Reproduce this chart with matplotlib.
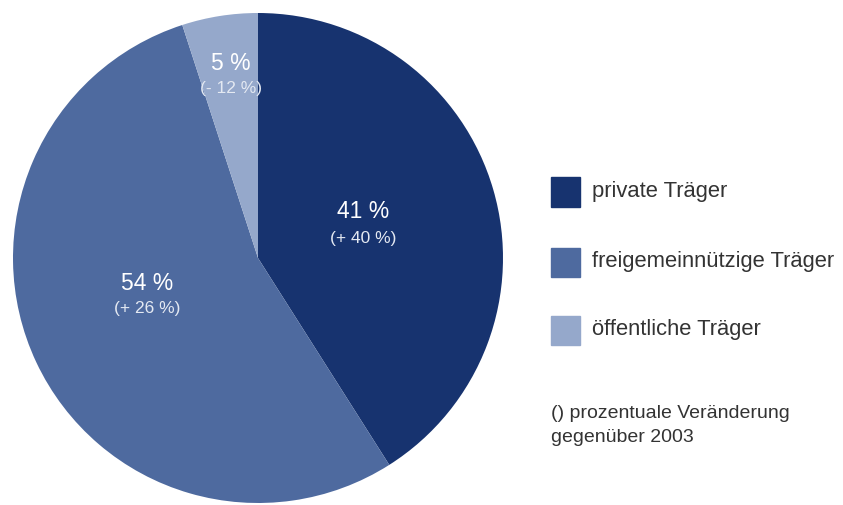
import matplotlib.pyplot as plt
from matplotlib.patches import Rectangle

plt.rcParams['font.family'] = ['Liberation Sans', 'DejaVu Sans']

# data
labels = ['private Träger', 'freigemeinnützige Träger', 'öffentliche Träger']
shares = [41, 54, 5]
changes = ['(+ 40 %)', '(+ 26 %)', '(- 12 %)']
colors = ['#17336f', '#4e6a9f', '#95a8cb']

W, H = 843, 505
fig = plt.figure(figsize=(W / 100, H / 100), dpi=100)

# pie axes: centre (258, 258) px, radius 245 px
cx, cy, r = 258, 258, 245
ax = fig.add_axes([(cx - r) / W, (H - cy - r) / H, 2 * r / W, 2 * r / H])
wedges, _ = ax.pie(shares, colors=colors, startangle=90, counterclock=False,
                   radius=1, wedgeprops=dict(linewidth=0))
ax.set_xlim(-1, 1)
ax.set_ylim(-1, 1)
ax.set_aspect('equal')
ax.axis('off')

# label positions in pixel coords (centre of main label)
label_px = [(363, 212), (147, 283), (231, 63)]
for (px, py), s, ch in zip(label_px, shares, changes):
    x = (px - cx) / r
    y = (cy - py) / r
    ax.text(x, y, f'{s} %', color='white', fontsize=16.5, ha='center', va='center')
    ax.text(x, y - 26 / r, ch, color='#e4e9f2', fontsize=12.5, ha='center', va='center')

# legend
rows_y = [192, 262, 330]
for yy, lab, col in zip(rows_y, labels, colors):
    fig.patches.append(Rectangle((551 / W, (H - yy - 14.5) / H), 29 / W, 29 / H,
                                 transform=fig.transFigure, color=col))
    fig.text(592 / W, (H - yy) / H, lab, fontsize=15.8, color='#333333',
             ha='left', va='center')

fig.text(551 / W, (H - 413) / H, '() prozentuale Veränderung', fontsize=14,
         color='#333333', ha='left', va='center')
fig.text(551 / W, (H - 438) / H, 'gegenüber 2003', fontsize=14,
         color='#333333', ha='left', va='center')

fig.savefig('out.png', dpi=100)
